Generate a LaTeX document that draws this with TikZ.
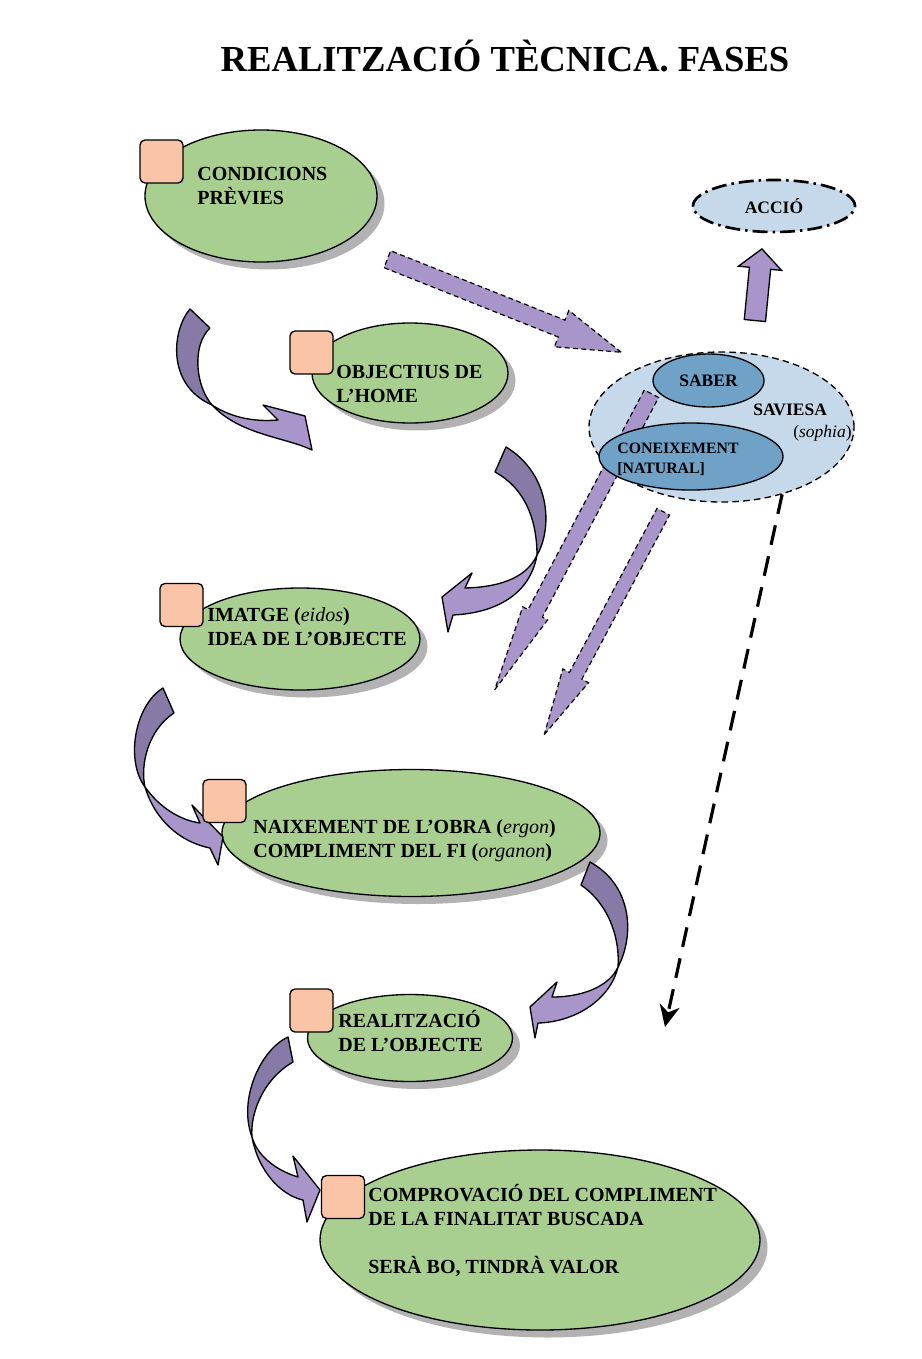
\documentclass[tikz,border=0pt]{standalone}
\usepackage{fontspec}
\setmainfont{Liberation Serif}
\usetikzlibrary{shapes.geometric,shapes.arrows,shadows,arrows.meta}
\definecolor{leafgreen}{RGB}{168,206,144}
\definecolor{peach}{RGB}{250,196,166}
\definecolor{paleblue}{RGB}{198,217,235}
\definecolor{steelblue}{RGB}{112,162,200}
\definecolor{lilac}{RGB}{168,150,202}
\definecolor{plum}{RGB}{136,122,166}

\begin{document}
\begin{tikzpicture}[x=0.6pt,y=-0.6pt,
  fase/.style={ellipse,draw,line width=.8pt,fill=leafgreen,inner sep=0pt,
    drop shadow={shadow xshift=4.5pt,shadow yshift=-4.5pt,fill=black!30,opacity=1}},
  badge/.style={rectangle,rounded corners=3pt,draw,line width=.8pt,fill=peach,
    minimum size=25.8pt,inner sep=0pt},
  txt/.style={font=\fontsize{12pt}{14.4pt}\selectfont\bfseries,align=left,
    inner sep=0pt,anchor=base west},
  smalltxt/.style={font=\fontsize{10.5pt}{12pt}\selectfont\bfseries},
  darrow/.style={single arrow,draw,dash pattern=on 3pt off 2pt,line width=.7pt,
    fill=lilac,anchor=tip},
  band/.style={draw,line width=.8pt,line join=round}
]

\path[use as bounding box,fill=white] (0,0) rectangle (921,1359);

% title
\node[font=\fontsize{22pt}{26pt}\selectfont\bfseries,anchor=base] (title) at (505,72)
  {REALITZACIÓ TÈCNICA. FASES};

% phases
\node[fase,minimum width=139.2pt,minimum height=79.2pt] (cond) at (261,196) {};
\node[fase,minimum width=117.6pt,minimum height=60pt] (obj) at (410,373) {};
\node[fase,minimum width=144pt,minimum height=61.2pt] (imat) at (300,639) {};
\node[fase,minimum width=226.8pt,minimum height=76.2pt] (naix) at (411,833) {};
\node[fase,minimum width=123pt,minimum height=52.2pt] (real) at (410,1038) {};
\node[fase,minimum width=264pt,minimum height=108pt] (comp) at (540,1240) {};

% wisdom side
\node[ellipse,draw,fill=paleblue,line width=1.6pt,
  dash pattern=on 9pt off 3pt on 1.5pt off 3pt,inner sep=0pt,
  minimum width=97.2pt,minimum height=31.2pt,smalltxt] (accio) at (774,206) {ACCIÓ};
\node[ellipse,draw,fill=paleblue,line width=.8pt,dash pattern=on 4pt off 2.5pt,
  minimum width=159pt,minimum height=90pt] (saviesa) at (721.5,427) {};

\node[darrow,inner sep=5.1pt,single arrow head extend=6.3pt,single arrow tip angle=34,
  minimum height=151pt,rotate=-21.7] (cap) at (623,353) {};
\node[darrow,inner sep=4.5pt,single arrow head extend=3.6pt,single arrow tip angle=18.5,
  minimum height=201pt,rotate=-117.9] (down1) at (493,693) {};

\node[ellipse,draw,fill=steelblue,line width=.8pt,inner sep=0pt,
  minimum width=66.6pt,minimum height=31.8pt,smalltxt] (saber) at (708.5,380.5) {SABER};
\node[ellipse,draw,fill=steelblue,line width=.8pt,inner sep=0pt,
  minimum width=110.4pt,minimum height=40.2pt] (conei) at (691,456.5) {};

\node[darrow,inner sep=3.9pt,single arrow head extend=4.5pt,single arrow tip angle=24.7,
  minimum height=151.6pt,rotate=-118.1] (down2) at (543,737) {};
\node[single arrow,draw,fill=lilac,line width=.8pt,inner sep=6pt,
  single arrow head extend=6.6pt,single arrow tip angle=96,anchor=tip,
  minimum height=43.2pt,rotate=84.4] (up) at (762,248) {};

\coordinate (dropend) at (665,1027);
\draw[line width=1.9pt,dash pattern=on 12pt off 7pt,
  -{Stealth[length=13pt,width=12pt,inset=4pt]}] (saviesa.-48) -- (dropend);

% curved arrows
\draw[band,fill=plum] (190,309) .. controls (172,330) and (166,385) .. (212,405)
  .. controls (195,385) and (192,345) .. (210,328) -- cycle;
\draw[band,fill=lilac] (212,405) .. controls (232,418) and (255,422) .. (278,420)
  -- (263,405) -- (305,416) -- (312,450) .. controls (285,437) and (240,435) .. (212,405) -- cycle;

\draw[band,fill=plum] (506,447) .. controls (552,475) and (552,530) .. (537,555)
  .. controls (537,525) and (528,490) .. (495,472) -- cycle;
\draw[band,fill=lilac] (537,555) .. controls (528,575) and (505,587) .. (465,588)
  -- (472,573) -- (442,597) -- (448,632) -- (453,615)
  .. controls (495,613) and (530,595) .. (537,555) -- cycle;

\draw[band,fill=plum] (163,688) .. controls (135,705) and (125,760) .. (145,787)
  .. controls (140,765) and (148,730) .. (174,713) -- cycle;
\draw[band,fill=lilac] (145,787) .. controls (160,808) and (180,820) .. (200,823)
  -- (192,805) -- (223,837) -- (218,865) -- (210,848)
  .. controls (180,842) and (155,820) .. (145,787) -- cycle;

\draw[band,fill=plum] (590,862) .. controls (632,885) and (635,935) .. (618,967)
  .. controls (620,940) and (610,905) .. (581,885) -- cycle;
\draw[band,fill=lilac] (618,967) .. controls (610,985) and (585,997) .. (552,997)
  -- (557,982) -- (530,1007) -- (535,1038) -- (538,1023)
  .. controls (575,1022) and (610,1000) .. (618,967) -- cycle;

\draw[band,fill=plum] (288,1037) .. controls (260,1050) and (238,1100) .. (252,1137)
  .. controls (250,1115) and (262,1080) .. (293,1062) -- cycle;
\draw[band,fill=lilac] (252,1137) .. controls (257,1155) and (275,1170) .. (298,1177)
  -- (293,1156) -- (320,1190) -- (307,1222) -- (303,1200)
  .. controls (280,1195) and (258,1170) .. (252,1137) -- cycle;

% badges
\node[badge] (b1) at (161.5,161.5) {};
\node[badge] (b2) at (311.5,352.5) {};
\node[badge] (b3) at (181.5,605) {};
\node[badge] (b4) at (224.5,801) {};
\node[badge] (b5) at (311.5,1010.5) {};
\node[badge] (b6) at (343,1197) {};

% texts (base = last line)
\node[txt] (condt) at (197,204) {CONDICIONS\\PRÈVIES};
\node[txt] (objt) at (336,402) {OBJECTIUS DE\\L’HOME};
\node[txt] (imatt) at (207,645) {IMATGE (\textmd{\textit{eidos}})\\IDEA DE L’OBJECTE};
\node[txt] (naixt) at (253,857) {NAIXEMENT DE L’OBRA (\textmd{\textit{ergon}})\\
  COMPLIMENT DEL FI (\textmd{\textit{organon}})};
\node[txt] (realt) at (338,1051) {REALITZACIÓ\\DE L’OBJECTE};
\node[txt] (compt) at (368,1273) {COMPROVACIÓ DEL COMPLIMENT\\DE LA FINALITAT BUSCADA\\[14.4pt]
  SERÀ BO, TINDRÀ VALOR};
\node[txt,font=\fontsize{9.5pt}{12pt}\selectfont\bfseries] (conet) at (617,473)
  {CONEIXEMENT\\{[NATURAL]}};
\node[smalltxt,anchor=base west,inner sep=0pt] (savt) at (753,415) {SAVIESA};
\node[font=\fontsize{10.5pt}{12pt}\selectfont,anchor=base west,inner sep=0pt] (sopht)
  at (793,437) {(\textit{sophia})};
\end{tikzpicture}
\end{document}
